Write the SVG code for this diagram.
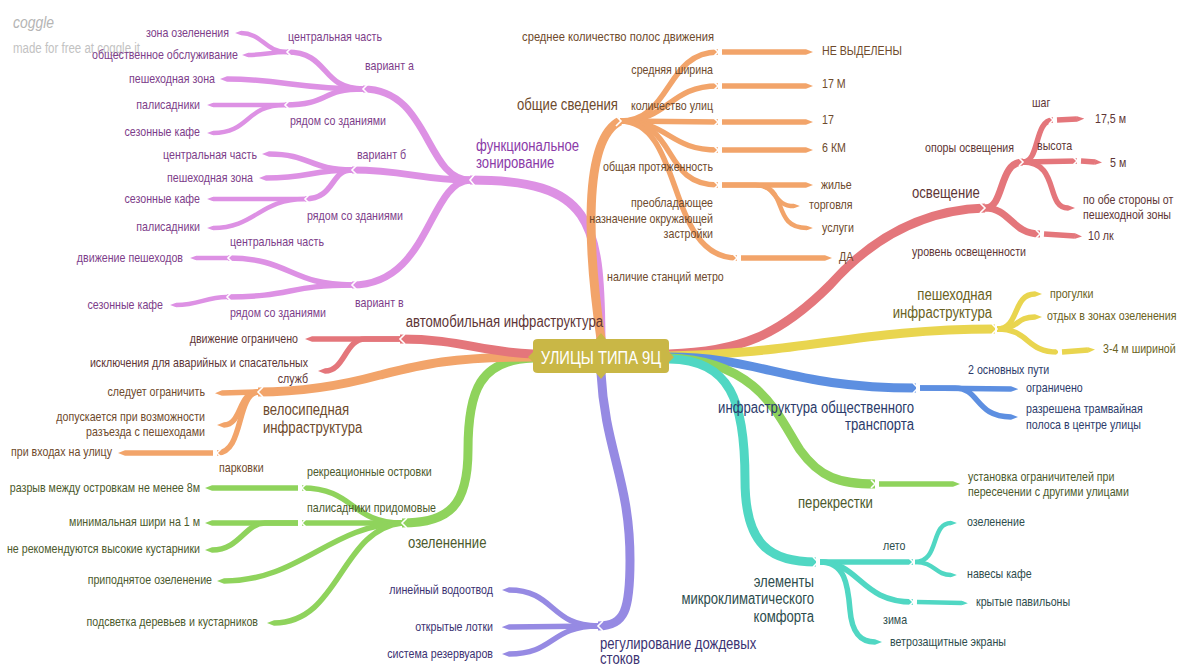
<svg xmlns="http://www.w3.org/2000/svg" width="1188" height="668" viewBox="0 0 1188 668">
<defs>
<style>
.c path{fill:none;stroke-linecap:butt;stroke-linejoin:round}
.pu{stroke:#dd91e4}.or{stroke:#f2a46a}.rd{stroke:#e4767b}.ye{stroke:#e9d54f}.bl{stroke:#5d8fe1}.gr{stroke:#8fd35c}.te{stroke:#50d7c3}.vi{stroke:#968ae3}
.w1{stroke-width:9}.w2{stroke-width:7}.w3{stroke-width:5.5}.w4{stroke-width:4.5}
.n polyline{fill:none;stroke:#fff;stroke-width:1.6}
text{font-family:"Liberation Sans",Arial,sans-serif;font-size:13px;dominant-baseline:central}
.L{font-size:16px}
.e{text-anchor:end}
.tpu{fill:#7d3d8a}.tpl{fill:#8a3aa8}.tor{fill:#6e4a2c}.trd{fill:#5e3535}.tye{fill:#6a6222}.tbl{fill:#2b3b6b}.tgr{fill:#4b5a2c}.tte{fill:#2d4d4d}.tvi{fill:#3b3272}
</style>
<marker id="mpu" viewBox="0 0 1.3 1" refX="0" refY="0.5" markerWidth="1.3" markerHeight="1" markerUnits="strokeWidth" orient="auto"><path d="M0,0 L1.3,0.5 L0,1 Z" fill="#dd91e4"/></marker>
<marker id="mor" viewBox="0 0 1.3 1" refX="0" refY="0.5" markerWidth="1.3" markerHeight="1" markerUnits="strokeWidth" orient="auto"><path d="M0,0 L1.3,0.5 L0,1 Z" fill="#f2a46a"/></marker>
<marker id="mrd" viewBox="0 0 1.3 1" refX="0" refY="0.5" markerWidth="1.3" markerHeight="1" markerUnits="strokeWidth" orient="auto"><path d="M0,0 L1.3,0.5 L0,1 Z" fill="#e4767b"/></marker>
<marker id="mye" viewBox="0 0 1.3 1" refX="0" refY="0.5" markerWidth="1.3" markerHeight="1" markerUnits="strokeWidth" orient="auto"><path d="M0,0 L1.3,0.5 L0,1 Z" fill="#e9d54f"/></marker>
<marker id="mbl" viewBox="0 0 1.3 1" refX="0" refY="0.5" markerWidth="1.3" markerHeight="1" markerUnits="strokeWidth" orient="auto"><path d="M0,0 L1.3,0.5 L0,1 Z" fill="#5d8fe1"/></marker>
<marker id="mgr" viewBox="0 0 1.3 1" refX="0" refY="0.5" markerWidth="1.3" markerHeight="1" markerUnits="strokeWidth" orient="auto"><path d="M0,0 L1.3,0.5 L0,1 Z" fill="#8fd35c"/></marker>
<marker id="mte" viewBox="0 0 1.3 1" refX="0" refY="0.5" markerWidth="1.3" markerHeight="1" markerUnits="strokeWidth" orient="auto"><path d="M0,0 L1.3,0.5 L0,1 Z" fill="#50d7c3"/></marker>
<marker id="mvi" viewBox="0 0 1.3 1" refX="0" refY="0.5" markerWidth="1.3" markerHeight="1" markerUnits="strokeWidth" orient="auto"><path d="M0,0 L1.3,0.5 L0,1 Z" fill="#968ae3"/></marker>
</defs>
<rect width="1188" height="668" fill="#ffffff"/>
<g id="watermark">
<text transform="matrix(.82 0 0 1 13 22)" style="font-style:italic;font-size:17px;fill:#b5b5b5">coggle</text>
<text transform="matrix(.82 0 0 1 13 48)" style="font-size:14px;fill:#c2c2c2">made for free at coggle.it</text>
</g>
<g id="connectors" class="c">
<path class="pu w1" d="M601,339 C600,220 592,180 470,180"/>
<path class="pu w2" d="M470,180 C425,180 430,89 363,89"/>
<path class="pu w2" d="M470,180 C420,180 405,170 352,170"/>
<path class="pu w2" d="M470,180 C428,182 430,285 352,285"/>
<path class="pu w3" d="M363,89 C320,89 330,52 287,52"/>
<path class="pu w3" d="M363,89 C300,89 280,79 227,79" marker-end="url(#mpu)"/>
<path class="pu w3" d="M363,89 C320,89 330,105 285,105"/>
<path class="pu w4" d="M287,52 C265,52 262,33 241,33" marker-end="url(#mpu)"/>
<path class="pu w4" d="M287,52 C270,52 265,55 248,55" marker-end="url(#mpu)"/>
<path class="pu w4" d="M285,105 L213,105" marker-end="url(#mpu)"/>
<path class="pu w4" d="M285,105 C245,105 250,133 213,133" marker-end="url(#mpu)"/>
<path class="pu w3" d="M352,170 C310,170 310,154 269,154" marker-end="url(#mpu)"/>
<path class="pu w3" d="M352,170 C310,170 310,178 266,178" marker-end="url(#mpu)"/>
<path class="pu w3" d="M352,170 C330,170 335,199 305,199"/>
<path class="pu w4" d="M305,199 L213,199" marker-end="url(#mpu)"/>
<path class="pu w4" d="M305,199 C260,199 255,228 213,228" marker-end="url(#mpu)"/>
<path class="pu w3" d="M352,285 C290,285 290,258 228,258"/>
<path class="pu w4" d="M228,258 L196,258" marker-end="url(#mpu)"/>
<path class="pu w3" d="M352,285 C290,285 290,297 227,297"/>
<path class="pu w4" d="M227,297 C205,297 200,305 176,305" marker-end="url(#mpu)"/>
<path class="or w1" d="M601,339 C588,250 582,140 620,121"/>
<path class="or w3" d="M620,121 C672,121 665,52 718,52"/>
<path class="or w3" d="M620,121 C670,121 668,86 718,86"/>
<path class="or w3" d="M620,121 L718,122"/>
<path class="or w3" d="M620,121 C670,121 668,150 718,150"/>
<path class="or w3" d="M620,121 C680,121 660,185 718,185"/>
<path class="or w3" d="M620,121 C685,121 665,258 737,258"/>
<path class="or w3" d="M722,52 L806,52" marker-end="url(#mor)"/>
<path class="or w3" d="M722,86 L806,86" marker-end="url(#mor)"/>
<path class="or w3" d="M722,122 L806,122" marker-end="url(#mor)"/>
<path class="or w3" d="M722,150 L806,150" marker-end="url(#mor)"/>
<path class="or w3" d="M722,185 L806,185" marker-end="url(#mor)"/>
<path class="or w4" d="M722,185 L755,185 C778,185 772,206 794,206" marker-end="url(#mor)"/>
<path class="or w4" d="M722,185 L755,185 C790,185 770,228 807,228" marker-end="url(#mor)"/>
<path class="or w3" d="M741,258 L825,258" marker-end="url(#mor)"/>
<path class="rd w1" d="M669,354 C740,352 780,335 830,285 C870,240 920,210 985,208"/>
<path class="rd w2" d="M985,208 C1005,208 998,162 1023,162"/>
<path class="rd w2" d="M985,208 C1010,208 1012,234 1040,234"/>
<path class="rd w3" d="M1023,162 C1040,162 1034,120 1053,120"/>
<path class="rd w3" d="M1023,162 L1077,161"/>
<path class="rd w3" d="M1023,162 C1060,162 1045,208 1068,208" marker-end="url(#mrd)"/>
<path class="rd w3" d="M1057,120 L1077,119" marker-end="url(#mrd)"/>
<path class="rd w3" d="M1081,161 L1095,162" marker-end="url(#mrd)"/>
<path class="rd w3" d="M1044,234 L1075,236" marker-end="url(#mrd)"/>
<path class="ye w1" d="M669,356 C800,354 860,329 995,329"/>
<path class="ye w3" d="M997,329 C1020,329 1012,294 1035,294" marker-end="url(#mye)"/>
<path class="ye w3" d="M997,329 C1020,329 1015,317 1035,317" marker-end="url(#mye)"/>
<path class="ye w3" d="M997,329 C1030,329 1025,352 1058,352"/>
<path class="ye w3" d="M1062,352 L1088,350" marker-end="url(#mye)"/>
<path class="bl w1" d="M669,357 C760,357 790,388 916,388"/>
<path class="bl w3" d="M920,388 L1011,389" marker-end="url(#mbl)"/>
<path class="bl w3" d="M920,388 L955,388 C980,388 975,417 1011,417" marker-end="url(#mbl)"/>
<path class="gr w1" d="M669,358 C760,360 780,420 800,450 C820,478 840,484 875,484"/>
<path class="gr w3" d="M879,484 L953,484" marker-end="url(#mgr)"/>
<path class="te w1" d="M669,359 C730,360 745,400 745,480 C745,545 770,562 816,562"/>
<path class="te w3" d="M820,562 L913,562"/>
<path class="te w4" d="M915,562 C940,562 930,523 951,523" marker-end="url(#mte)"/>
<path class="te w4" d="M915,562 C935,562 935,575 951,575" marker-end="url(#mte)"/>
<path class="te w3" d="M820,562 C860,562 860,602 913,602"/>
<path class="te w4" d="M917,602 L962,603" marker-end="url(#mte)"/>
<path class="te w3" d="M820,562 C845,562 848,585 850,610 C852,635 862,642 875,642" marker-end="url(#mte)"/>
<path class="vi w1" d="M601,373 C605,450 630,480 630,560 C630,610 625,626 598,626"/>
<path class="vi w3" d="M598,626 C550,626 555,590 509,590" marker-end="url(#mvi)"/>
<path class="vi w3" d="M598,626 L509,627" marker-end="url(#mvi)"/>
<path class="vi w3" d="M598,626 C550,626 555,654 509,654" marker-end="url(#mvi)"/>
<path class="gr w1" d="M533,358 C480,360 468,390 468,450 C468,505 450,523 402,523"/>
<path class="gr w3" d="M402,523 C350,523 355,488 302,488"/>
<path class="gr w3" d="M402,523 L302,523"/>
<path class="gr w3" d="M298,488 L212,488" marker-end="url(#mgr)"/>
<path class="gr w3" d="M298,523 L212,523" marker-end="url(#mgr)"/>
<path class="gr w3" d="M298,523 L265,523 C245,523 240,550 212,550" marker-end="url(#mgr)"/>
<path class="gr w3" d="M402,523 C330,525 300,581 224,581" marker-end="url(#mgr)"/>
<path class="gr w3" d="M402,523 C340,530 340,623 274,623" marker-end="url(#mgr)"/>
<path class="or w1" d="M533,357 C450,357 420,365 380,375 C340,386 300,392 258,392"/>
<path class="or w3" d="M258,392 L222,393" marker-end="url(#mor)"/>
<path class="or w3" d="M258,392 C238,392 242,425 224,425" marker-end="url(#mor)"/>
<path class="or w3" d="M258,392 C236,394 244,453 217,453"/>
<path class="or w3" d="M213,453 L125,453" marker-end="url(#mor)"/>
<path class="rd w1" d="M533,354 C480,352 460,339 400,339"/>
<path class="rd w3" d="M400,339 L312,339" marker-end="url(#mrd)"/>
<path class="rd w3" d="M400,339 L365,339 C345,339 345,371 325,371" marker-end="url(#mrd)"/>
<g class="n">
<polyline points="475,174 470,180 475,186"/>
<polyline points="368,84 363,89 368,94"/>
<polyline points="357,165 352,170 357,175"/>
<polyline points="357,280 352,285 357,290"/>
<polyline points="291,48 287,52 291,56"/>
<polyline points="289,101 285,105 289,109"/>
<polyline points="309,195 305,199 309,203"/>
<polyline points="232,254 228,258 232,262"/>
<polyline points="231,293 227,297 231,301"/>
<polyline points="603,621 598,626 603,631"/>
<polyline points="407,518 402,523 407,528"/>
<polyline points="306,484 302,488 306,492"/>
<polyline points="306,519 302,523 306,527"/>
<polyline points="263,387 258,392 263,397"/>
<polyline points="221,449 217,453 221,457"/>
<polyline points="405,334 400,339 405,344"/>
<polyline points="616,116 621,121 616,126"/>
<polyline points="714,48 718,52 714,56"/>
<polyline points="714,82 718,86 714,90"/>
<polyline points="714,118 718,122 714,126"/>
<polyline points="714,146 718,150 714,154"/>
<polyline points="714,181 718,185 714,189"/>
<polyline points="733,254 737,258 733,262"/>
<polyline points="980,203 985,208 980,213"/>
<polyline points="1019,158 1023,162 1019,166"/>
<polyline points="1049,116 1053,120 1049,124"/>
<polyline points="1073,157 1077,161 1073,165"/>
<polyline points="1036,230 1040,234 1036,238"/>
<polyline points="992,324 997,329 992,334"/>
<polyline points="1056,348 1060,352 1056,356"/>
<polyline points="913,383 918,388 913,393"/>
<polyline points="871,480 875,484 871,488"/>
<polyline points="813,557 818,562 813,567"/>
<polyline points="909,558 913,562 909,566"/>
<polyline points="909,598 913,602 909,606"/>
</g>
</g>
<g id="center">
<path d="M538,339 L596,339 L601,333 L606,339 L665,339 Q669,339 669,343 L669,352 L674,357 L669,362 L669,369 Q669,373 665,373 L606,373 L601,379 L596,373 L538,373 Q533,373 533,369 L533,362 L528,357 L533,352 L533,343 Q533,339 538,339 Z" fill="#c9b746"/>
<text transform="matrix(.82 0 0 1 601 357)" style="font-size:18px;fill:#ffffff;text-anchor:middle">УЛИЦЫ ТИПА 9Ц</text>
</g>
<g id="n-func">
<text class="L tpl" transform="matrix(.82 0 0 1 476 146)">функциональное</text>
<text class="L tpl" transform="matrix(.82 0 0 1 476 163)">зонирование</text>
</g>
<g id="n-var-a"><text class="tpu" transform="matrix(.82 0 0 1 365 66)">вариант а</text></g>
<g id="n-a-center"><text class="tpu" transform="matrix(.82 0 0 1 288 37)">центральная часть</text></g>
<g id="n-a-center-1"><text class="tpu e" transform="matrix(.82 0 0 1 229 33)">зона озеленения</text></g>
<g id="n-a-center-2"><text class="tpu e" transform="matrix(.82 0 0 1 238 55)">общественное обслуживание</text></g>
<g id="n-a-ped"><text class="tpu e" transform="matrix(.82 0 0 1 215 79)">пешеходная зона</text></g>
<g id="n-a-near"><text class="tpu" transform="matrix(.82 0 0 1 290 121)">рядом со зданиями</text></g>
<g id="n-a-near-1"><text class="tpu e" transform="matrix(.82 0 0 1 200 105)">палисадники</text></g>
<g id="n-a-near-2"><text class="tpu e" transform="matrix(.82 0 0 1 200 132)">сезонные кафе</text></g>
<g id="n-var-b"><text class="tpu" transform="matrix(.82 0 0 1 357 155)">вариант б</text></g>
<g id="n-b-center"><text class="tpu e" transform="matrix(.82 0 0 1 257 155)">центральная часть</text></g>
<g id="n-b-ped"><text class="tpu e" transform="matrix(.82 0 0 1 253 178)">пешеходная зона</text></g>
<g id="n-b-near"><text class="tpu" transform="matrix(.82 0 0 1 307 216)">рядом со зданиями</text></g>
<g id="n-b-near-1"><text class="tpu e" transform="matrix(.82 0 0 1 200 199)">сезонные кафе</text></g>
<g id="n-b-near-2"><text class="tpu e" transform="matrix(.82 0 0 1 200 227)">палисадники</text></g>
<g id="n-var-v"><text class="tpu" transform="matrix(.82 0 0 1 355 303)">вариант в</text></g>
<g id="n-v-center"><text class="tpu" transform="matrix(.82 0 0 1 230 242)">центральная часть</text></g>
<g id="n-v-center-1"><text class="tpu e" transform="matrix(.82 0 0 1 183 258)">движение пешеходов</text></g>
<g id="n-v-near"><text class="tpu" transform="matrix(.82 0 0 1 230 313)">рядом со зданиями</text></g>
<g id="n-v-near-1"><text class="tpu e" transform="matrix(.82 0 0 1 163 305)">сезонные кафе</text></g>
<g id="n-general"><text class="L tor" transform="matrix(.82 0 0 1 517 105)">общие сведения</text></g>
<g id="n-g-lanes"><text class="tor e" transform="matrix(.86 0 0 1 714 37)">среднее количество полос движения</text></g>
<g id="n-g-lanes-1"><text class="tor" transform="matrix(.82 0 0 1 822 51)">НЕ ВЫДЕЛЕНЫ</text></g>
<g id="n-g-width"><text class="tor e" transform="matrix(.82 0 0 1 713 70)">средняя ширина</text></g>
<g id="n-g-width-1"><text class="tor" transform="matrix(.82 0 0 1 822 84)">17 М</text></g>
<g id="n-g-count"><text class="tor e" transform="matrix(.82 0 0 1 713 106)">количество улиц</text></g>
<g id="n-g-count-1"><text class="tor" transform="matrix(.82 0 0 1 822 120)">17</text></g>
<g id="n-g-length"><text class="tor e" transform="matrix(.82 0 0 1 713 167)">общая протяженность</text></g>
<g id="n-g-length-1"><text class="tor" transform="matrix(.82 0 0 1 822 148)">6 КМ</text></g>
<g id="n-g-use">
<text class="tor e" transform="matrix(.82 0 0 1 713 203)">преобладающее</text>
<text class="tor e" transform="matrix(.82 0 0 1 713 219)">назначение окружающей</text>
<text class="tor e" transform="matrix(.82 0 0 1 713 234)">застройки</text>
</g>
<g id="n-g-use-1"><text class="tor" transform="matrix(.82 0 0 1 821 185)">жилье</text></g>
<g id="n-g-use-2"><text class="tor" transform="matrix(.82 0 0 1 809 205)">торговля</text></g>
<g id="n-g-use-3"><text class="tor" transform="matrix(.82 0 0 1 822 228)">услуги</text></g>
<g id="n-g-metro"><text class="tor" transform="matrix(.82 0 0 1 607 277)">наличие станций метро</text></g>
<g id="n-g-metro-1"><text class="tor" transform="matrix(.82 0 0 1 839 257)">ДА</text></g>
<g id="n-light"><text class="L trd" transform="matrix(.82 0 0 1 912 193)">освещение</text></g>
<g id="n-l-poles"><text class="trd" transform="matrix(.82 0 0 1 925 148)">опоры освещения</text></g>
<g id="n-l-step"><text class="trd" transform="matrix(.82 0 0 1 1032 103)">шаг</text></g>
<g id="n-l-step-1"><text class="trd" transform="matrix(.82 0 0 1 1095 119)">17,5 м</text></g>
<g id="n-l-height"><text class="trd" transform="matrix(.82 0 0 1 1037 146)">высота</text></g>
<g id="n-l-height-1"><text class="trd" transform="matrix(.82 0 0 1 1110 163)">5 м</text></g>
<g id="n-l-sides">
<text class="trd" transform="matrix(.82 0 0 1 1083 200)">по обе стороны от</text>
<text class="trd" transform="matrix(.82 0 0 1 1083 215)">пешеходной зоны</text>
</g>
<g id="n-l-level"><text class="trd" transform="matrix(.82 0 0 1 912 252)">уровень освещенности</text></g>
<g id="n-l-level-1"><text class="trd" transform="matrix(.82 0 0 1 1088 236)">10 лк</text></g>
<g id="n-ped">
<text class="L tye e" transform="matrix(.82 0 0 1 992 295)">пешеходная</text>
<text class="L tye e" transform="matrix(.82 0 0 1 992 313)">инфраструктура</text>
</g>
<g id="n-p-1"><text class="tye" transform="matrix(.82 0 0 1 1050 294)">прогулки</text></g>
<g id="n-p-2"><text class="tye" transform="matrix(.82 0 0 1 1047 316)">отдых в зонах озеленения</text></g>
<g id="n-p-3"><text class="tye" transform="matrix(.82 0 0 1 1103 349)">3-4 м шириной</text></g>
<g id="n-transit">
<text class="L tbl e" transform="matrix(.82 0 0 1 914 408)">инфраструктура общественного</text>
<text class="L tbl e" transform="matrix(.82 0 0 1 914 425)">транспорта</text>
</g>
<g id="n-t-ways"><text class="tbl" transform="matrix(.82 0 0 1 968 370)">2 основных пути</text></g>
<g id="n-t-1"><text class="tbl" transform="matrix(.82 0 0 1 1026 388)">ограничено</text></g>
<g id="n-t-2">
<text class="tbl" transform="matrix(.82 0 0 1 1026 409)">разрешена трамвайная</text>
<text class="tbl" transform="matrix(.82 0 0 1 1026 425)">полоса в центре улицы</text>
</g>
<g id="n-cross"><text class="L tgr" transform="matrix(.82 0 0 1 798 503)">перекрестки</text></g>
<g id="n-cross-1">
<text class="tgr" transform="matrix(.82 0 0 1 968 477)">установка ограничителей при</text>
<text class="tgr" transform="matrix(.82 0 0 1 968 492)">пересечении с другими улицами</text>
</g>
<g id="n-climate">
<text class="L tte e" transform="matrix(.82 0 0 1 814 582)">элементы</text>
<text class="L tte e" transform="matrix(.82 0 0 1 814 599)">микроклиматического</text>
<text class="L tte e" transform="matrix(.82 0 0 1 814 617)">комфорта</text>
</g>
<g id="n-c-summer"><text class="tte" transform="matrix(.82 0 0 1 883 546)">лето</text></g>
<g id="n-c-summer-1"><text class="tte" transform="matrix(.82 0 0 1 967 522)">озеленение</text></g>
<g id="n-c-summer-2"><text class="tte" transform="matrix(.82 0 0 1 967 574)">навесы кафе</text></g>
<g id="n-c-winter"><text class="tte" transform="matrix(.82 0 0 1 883 620)">зима</text></g>
<g id="n-c-winter-1"><text class="tte" transform="matrix(.82 0 0 1 976 602)">крытые павильоны</text></g>
<g id="n-c-wind"><text class="tte" transform="matrix(.82 0 0 1 890 642)">ветрозащитные экраны</text></g>
<g id="n-rain">
<text class="L tvi" transform="matrix(.82 0 0 1 600 644)">регулирование дождевых</text>
<text class="L tvi" transform="matrix(.82 0 0 1 600 659)">стоков</text>
</g>
<g id="n-r-1"><text class="tvi e" transform="matrix(.82 0 0 1 493 590)">линейный водоотвод</text></g>
<g id="n-r-2"><text class="tvi e" transform="matrix(.82 0 0 1 493 627)">открытые лотки</text></g>
<g id="n-r-3"><text class="tvi e" transform="matrix(.82 0 0 1 493 654)">система резервуаров</text></g>
<g id="n-green"><text class="L tgr" transform="matrix(.82 0 0 1 408 543)">озелененние</text></g>
<g id="n-gr-isl"><text class="tgr" transform="matrix(.82 0 0 1 307 472)">рекреационные островки</text></g>
<g id="n-gr-isl-1"><text class="tgr e" transform="matrix(.82 0 0 1 200 488)">разрыв между островкам не менее 8м</text></g>
<g id="n-gr-gard"><text class="tgr" transform="matrix(.82 0 0 1 307 508)">палисадники придомовые</text></g>
<g id="n-gr-gard-1"><text class="tgr e" transform="matrix(.82 0 0 1 200 522)">минимальная шири на 1 м</text></g>
<g id="n-gr-gard-2"><text class="tgr e" transform="matrix(.82 0 0 1 200 549)">не рекомендуются высокие кустарники</text></g>
<g id="n-gr-raised"><text class="tgr e" transform="matrix(.82 0 0 1 212 580)">приподнятое озеленение</text></g>
<g id="n-gr-lights"><text class="tgr e" transform="matrix(.82 0 0 1 258 622)">подсветка деревьев и кустарников</text></g>
<g id="n-bike">
<text class="L tor" transform="matrix(.82 0 0 1 263 410)">велосипедная</text>
<text class="L tor" transform="matrix(.82 0 0 1 263 428)">инфраструктура</text>
</g>
<g id="n-b-1"><text class="tor e" transform="matrix(.82 0 0 1 205 392)">следует ограничить</text></g>
<g id="n-b-2">
<text class="tor e" transform="matrix(.82 0 0 1 205 417)">допускается при возможности</text>
<text class="tor e" transform="matrix(.82 0 0 1 205 432)">разъезда с пешеходами</text>
</g>
<g id="n-b-park"><text class="tor" transform="matrix(.82 0 0 1 219 468)">парковки</text></g>
<g id="n-b-park-1"><text class="tor e" transform="matrix(.82 0 0 1 112 452)">при входах на улицу</text></g>
<g id="n-auto"><text class="L trd e" transform="matrix(.82 0 0 1 603 322)">автомобильная инфраструктура</text></g>
<g id="n-au-1"><text class="trd e" transform="matrix(.82 0 0 1 298 339)">движение ограничено</text></g>
<g id="n-au-2">
<text class="trd e" transform="matrix(.82 0 0 1 308 363)">исключения для аварийных и спасательных</text>
<text class="trd e" transform="matrix(.82 0 0 1 308 379)">служб</text>
</g>
</svg>
